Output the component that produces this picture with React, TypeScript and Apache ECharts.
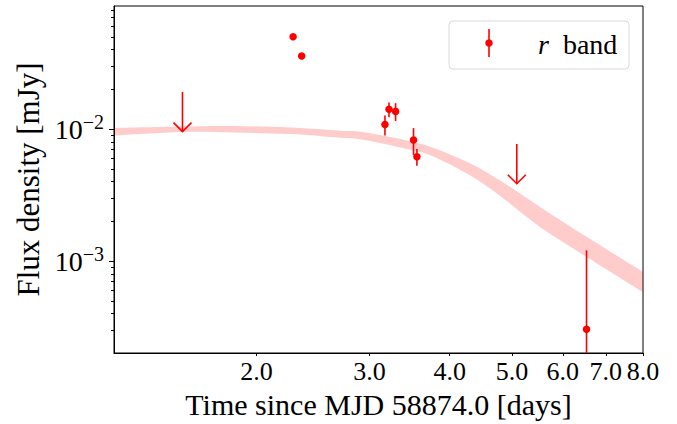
import React, { useEffect, useRef } from 'react';
import * as echarts from 'echarts';

// ---- data (raw units: days, mJy) ----
const detTimes = [2.281, 2.352, 3.171, 3.217, 3.294, 3.513, 3.556, 6.533];
const detFlux = [0.05, 0.0357, 0.0108, 0.0141, 0.0136, 0.00826, 0.00617, 0.000304];
const detErr = [0.002, 0.0015, 0.00185, 0.0018, 0.0021, 0.0019, 0.0009, 0.0009];

const ulTimes = [1.534, 5.088];
const ulFlux = [0.0191, 0.0077];

const bandTimes = [1.2, 1.534, 1.842, 2.259, 2.702, 2.903, 3.35, 3.73, 4.305, 4.793, 5.53, 6.545, 8.0];
const bandUpper = [0.01018, 0.01044, 0.01054, 0.01026, 0.00971, 0.00954, 0.0084, 0.00734, 0.00548, 0.00407, 0.00257, 0.00152, 0.000826];
const bandLower = [0.00893, 0.00949, 0.00941, 0.00917, 0.00859, 0.00835, 0.00724, 0.00632, 0.00444, 0.00311, 0.00181, 0.00107, 0.000582];

const xTickValues = [2, 3, 4, 5, 6, 7, 8];
const yMajorTicks = [1e-3, 1e-2];
const yMinorTicks = [
  2e-4, 3e-4, 4e-4, 5e-4, 6e-4, 7e-4, 8e-4, 9e-4,
  2e-3, 3e-3, 4e-3, 5e-3, 6e-3, 7e-3, 8e-3, 9e-3,
  2e-2, 3e-2, 4e-2, 5e-2, 6e-2, 7e-2, 8e-2,
];
const xRange = [1.2, 8.0];
const yRange = [2.01e-4, 0.0855];

const L = (v: number) => Math.log10(v);
const FONT = '"Liberation Serif", "DejaVu Serif", serif';
const RED = '#ff0000';

// Catmull-Rom through pixel points -> cubic bezier path commands
function smoothSegments(pts: number[][], start: boolean): string {
  let d = start ? `M${pts[0][0]},${pts[0][1]}` : `L${pts[0][0]},${pts[0][1]}`;
  for (let i = 0; i < pts.length - 1; i++) {
    const p0 = pts[Math.max(0, i - 1)];
    const p1 = pts[i];
    const p2 = pts[i + 1];
    const p3 = pts[Math.min(pts.length - 1, i + 2)];
    const c1 = [p1[0] + (p2[0] - p0[0]) / 6, p1[1] + (p2[1] - p0[1]) / 6];
    const c2 = [p2[0] - (p3[0] - p1[0]) / 6, p2[1] - (p3[1] - p1[1]) / 6];
    d += ` C${c1[0]},${c1[1]} ${c2[0]},${c2[1]} ${p2[0]},${p2[1]}`;
  }
  return d;
}

export default function App() {
  const ref = useRef<HTMLDivElement>(null);
  useEffect(() => {
    const chart = echarts.init(ref.current!, null, { renderer: 'svg' });
    const yMin = L(yRange[0]);
    const yMax = L(yRange[1]);

    const errData = detTimes.map((t, i) => {
      const lo = detFlux[i] - detErr[i];
      return [L(t), L(detFlux[i]), lo > 0 ? Math.max(L(lo), yMin) : yMin, L(detFlux[i] + detErr[i])];
    });
    const ulData = ulTimes.map((t, i) => [L(t), L(ulFlux[i]), L(ulFlux[i] * 0.5)]);
    const bandData = bandTimes.map((t, i) => [L(t), L(bandLower[i]), L(bandUpper[i])]);

    const option: any = {
      animation: false,
      backgroundColor: '#fff',
      grid: {
        left: 114, right: 34, top: 6, bottom: 71,
        show: true, borderColor: '#000', borderWidth: 1, backgroundColor: 'transparent',
      },
      xAxis: [
        {
          type: 'value',
          min: L(xRange[0]),
          max: L(xRange[1]),
          splitLine: { show: false },
          axisLine: { show: true, onZero: false, lineStyle: { color: '#000', width: 1 } },
          axisTick: {
            show: true, length: 3, lineStyle: { color: '#000', width: 1 },
            customValues: xTickValues.map(L),
          },
          axisLabel: {
            customValues: xTickValues.map(L),
            formatter: (v: number) => Math.pow(10, v).toFixed(1),
            fontFamily: FONT, fontSize: 26, color: '#000', margin: 5,
            showMinLabel: true, showMaxLabel: true,
          },
          name: 'Time since MJD 58874.0 [days]',
          nameLocation: 'middle',
          nameGap: 36,
          nameTextStyle: { fontFamily: FONT, fontSize: 30, color: '#000' },
        },
      ],
      yAxis: [
        {
          type: 'value',
          min: yMin,
          max: yMax,
          splitLine: { show: false },
          axisLine: { show: true, onZero: false, lineStyle: { color: '#000', width: 1 } },
          axisTick: {
            show: true, length: 5, lineStyle: { color: '#000', width: 1 },
            customValues: yMajorTicks.map(L),
          },
          axisLabel: {
            customValues: yMajorTicks.map(L),
            formatter: (v: number) => `{b|10}{s|\u2212${-Math.round(v)}}`,
            margin: 10,
            rich: {
              b: { fontFamily: FONT, fontSize: 28, color: '#000', lineHeight: 34 },
              s: { fontFamily: FONT, fontSize: 20, color: '#000', lineHeight: 20, verticalAlign: 'top' },
            },
          },
          name: 'Flux density [mJy]',
          nameLocation: 'middle',
          nameGap: 64,
          nameTextStyle: { fontFamily: FONT, fontSize: 31, color: '#000' },
        },
        {
          type: 'value',
          min: yMin,
          max: yMax,
          position: 'left',
          splitLine: { show: false },
          axisLine: { show: false },
          axisLabel: { show: false },
          axisTick: {
            show: true, length: 3, lineStyle: { color: '#000', width: 1 },
            customValues: yMinorTicks.map(L),
          },
        },
      ],
      series: [
        {
          type: 'custom',
          data: bandData,
          dimensions: ['x', 'lo', 'hi'],
          encode: { x: 0, y: [1, 2] },
          clip: true,
          z: 1,
          renderItem: (params: any, api: any) => {
            if (params.dataIndex !== 0) return null;
            const upper = bandData.map((d) => api.coord([d[0], d[2]]));
            const lower = bandData.map((d) => api.coord([d[0], d[1]])).reverse();
            const pathData = smoothSegments(upper, true) + ' ' + smoothSegments(lower, false) + ' Z';
            return {
              type: 'path',
              shape: { pathData },
              style: { fill: 'rgba(255,0,0,0.2)', stroke: 'none' },
            };
          },
        },
        {
          type: 'custom',
          data: errData,
          dimensions: ['x', 'y', 'lo', 'hi'],
          encode: { x: 0, y: 1 },
          clip: true,
          z: 3,
          renderItem: (params: any, api: any) => {
            const x = api.value(0);
            const p1 = api.coord([x, api.value(3)]);
            const p2 = api.coord([x, api.value(2)]);
            return {
              type: 'line',
              shape: { x1: p1[0], y1: p1[1], x2: p2[0], y2: p2[1] },
              style: { stroke: RED, lineWidth: 1.6, fill: 'none' },
            };
          },
        },
        {
          type: 'scatter',
          data: detTimes.map((t, i) => [L(t), L(detFlux[i])]),
          symbol: 'circle',
          symbolSize: 7.5,
          itemStyle: { color: RED, opacity: 1 },
          z: 4,
        },
        {
          type: 'custom',
          data: ulData,
          dimensions: ['x', 'top', 'tip'],
          encode: { x: 0, y: 1 },
          z: 3,
          renderItem: (params: any, api: any) => {
            const x = api.value(0);
            const top = api.coord([x, api.value(1)]);
            const tip = api.coord([x, api.value(2)]);
            return {
              type: 'group',
              children: [
                {
                  type: 'line',
                  shape: { x1: top[0], y1: top[1], x2: tip[0], y2: tip[1] },
                  style: { stroke: RED, lineWidth: 1.6, fill: 'none' },
                },
                {
                  type: 'polyline',
                  shape: { points: [[tip[0] - 9, tip[1] - 9], [tip[0], tip[1]], [tip[0] + 9, tip[1] - 9]] },
                  style: { stroke: RED, lineWidth: 1.6, fill: 'none' },
                },
              ],
            };
          },
        },
      ],
      graphic: [
        {
          type: 'rect',
          shape: { x: 449, y: 21, width: 180, height: 48, r: 4 },
          style: { fill: '#fff', stroke: '#d9d9d9', lineWidth: 1 },
          z: 100,
        },
        {
          type: 'line',
          shape: { x1: 489, y1: 29, x2: 489, y2: 57 },
          style: { stroke: RED, lineWidth: 1.6 },
          z: 101,
        },
        {
          type: 'circle',
          shape: { cx: 489, cy: 43, r: 3.75 },
          style: { fill: RED },
          z: 101,
        },
        {
          type: 'text',
          x: 538,
          y: 44,
          style: {
            text: '{i|r}  band',
            fontFamily: FONT,
            fontSize: 28,
            fill: '#000',
            verticalAlign: 'middle',
            rich: {
              i: { fontFamily: FONT, fontSize: 28, fontStyle: 'italic', fill: '#000' },
            },
          },
          z: 101,
        },
      ],
    };
    chart.setOption(option);
    return () => chart.dispose();
  }, []);
  return (
    <div
      ref={ref}
      style={{ position: 'fixed', left: 0, top: 0, width: 677, height: 424, background: '#fff' }}
    />
  );
}
